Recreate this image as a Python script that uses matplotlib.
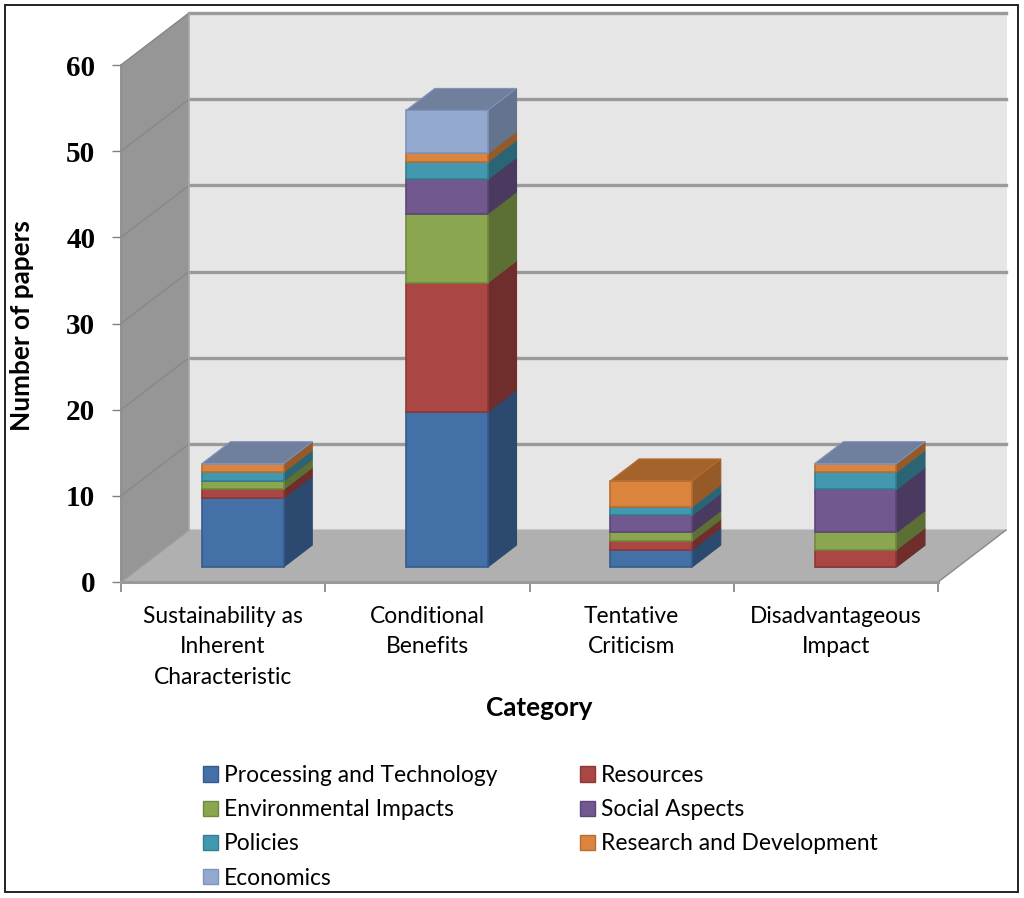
import numpy as np
import matplotlib
matplotlib.use("Agg")
import matplotlib.pyplot as plt
from matplotlib.patches import Polygon, Rectangle, Patch

categories = ["Sustainability as\nInherent\nCharacteristic", "Conditional\nBenefits",
              "Tentative\nCriticism", "Disadvantageous\nImpact"]
series_names = ["Processing and Technology", "Resources", "Environmental Impacts",
                "Social Aspects", "Policies", "Research and Development", "Economics"]
processing = [8, 18, 2, 0]
resources = [1, 15, 1, 2]
environmental = [1, 8, 1, 2]
social = [0, 4, 2, 5]
policies = [1, 2, 1, 2]
research = [1, 1, 3, 1]
# nan = no economics segment, so the top face takes the orange of the one below
economics = [0, 5, np.nan, 0]
yticks = [0, 10, 20, 30, 40, 50, 60]

front_cols = ["#4470a8", "#aa4643", "#8aa64f", "#71588f", "#4198af", "#db843d", "#93a9cf"]
side_cols = ["#2c4a70", "#6f2e2c", "#5c6f35", "#4a3a5f", "#2b6575", "#965a28", "#65748e"]
top_cols = ["#2c4a70", "#6f2e2c", "#5c6f35", "#4a3a5f", "#2b6575", "#a5632c", "#6f7f9c"]
edge_cols = ["#355b8c", "#8c3836", "#71893f", "#5c4776", "#337e93", "#b86d30", "#7d94bb"]

W, H = 1024, 898
plt.rcParams["font.family"] = ["Lato", "DejaVu Sans"]
fig = plt.figure(figsize=(W / 100, H / 100), dpi=100)
ax = fig.add_axes([121 / W, 1 - 582 / H, 817 / W, 517 / H])
ax.set_xlim(-0.5, 3.5)
ax.set_ylim(0, 60)
ax.patch.set_visible(False)

# 3d look: how far the back wall sits from the front plane, in data units
dx = 68 / 204.25
dy = 6.03
bar_half = 0.2
depth_front = 0.29
depth_back = 0.71


def face(pts, fc, ec=None, lw=0.8, z=1):
    ax.add_patch(Polygon(pts, closed=True, facecolor=fc, edgecolor=ec if ec else fc,
                         linewidth=lw, zorder=z, clip_on=False))


x0, x1 = -0.5, 3.5
face([(x0, 0), (x0 + dx, dy), (x0 + dx, 60 + dy), (x0, 60)], "#969696", z=1)
face([(x0 + dx, dy), (x1 + dx, dy), (x1 + dx, 60 + dy), (x0 + dx, 60 + dy)], "#e6e6e6", z=1)
face([(x0, 0), (x1, 0), (x1 + dx, dy), (x0 + dx, dy)], "#b0b0b0", z=2)

for t in yticks[1:]:
    ax.plot([x0 + dx, x1 + dx], [t + dy, t + dy], color="#9a9a9a", lw=2.4, zorder=2, clip_on=False)
    ax.plot([x0, x0 + dx], [t, t + dy], color="#868686", lw=0.9, zorder=2, clip_on=False)
ax.plot([x0 + dx, x0 + dx], [dy, 60 + dy], color="#a8a8a8", lw=1.2, zorder=2, clip_on=False)
ax.plot([x0, x0 + dx], [0, dy], color="#9a9a9a", lw=1, zorder=3, clip_on=False)
ax.plot([x1, x1 + dx], [0, dy], color="#8c8c8c", lw=1, zorder=3, clip_on=False)

data = np.array([processing, resources, environmental, social, policies, research, economics], dtype=float)

for i in range(len(categories)):
    left = i - bar_half + depth_front * dx
    right = i + bar_half + depth_front * dx
    off_x = (depth_back - depth_front) * dx
    base = depth_front * dy
    off_y = (depth_back - depth_front) * dy
    bottom = base
    last = 0
    for s in range(len(series_names)):
        v = data[s, i]
        if np.isnan(v):
            continue
        top = bottom + v
        face([(right, bottom), (right + off_x, bottom + off_y), (right + off_x, top + off_y), (right, top)],
             side_cols[s], z=4)
        ax.bar(left, v, width=right - left, bottom=bottom, align="edge", color=front_cols[s],
               edgecolor=edge_cols[s], linewidth=1.2, zorder=5, clip_on=False)
        bottom = top
        last = s
    face([(left, bottom), (right, bottom), (right + off_x, bottom + off_y), (left + off_x, bottom + off_y)],
         top_cols[last], ec=edge_cols[last], z=6)

for sp in ["top", "right"]:
    ax.spines[sp].set_visible(False)
ax.spines["left"].set_color("#8c8c8c")
ax.spines["left"].set_linewidth(1.2)
ax.spines["bottom"].set_color("#9a9a9a")
ax.spines["bottom"].set_linewidth(2.2)
ax.spines["bottom"].set_zorder(3)

ax.set_yticks(yticks)
ax.set_yticklabels([str(t) for t in yticks], family=["Liberation Serif"], fontweight="bold", fontsize=21)
ax.tick_params(axis="y", length=6.5, width=1, color="#808080", pad=12)
ax.set_xticks(np.arange(-0.5, 4, 1))
ax.set_xticklabels([])
ax.tick_params(axis="x", which="major", length=7.5, width=1.2, color="#808080")
ax.set_xticks(np.arange(len(categories)), labels=categories, minor=True)
ax.tick_params(axis="x", which="minor", length=0, pad=17, labelsize=16.4)
for lab in ax.get_xticklabels(minor=True):
    lab.set_linespacing(1.58)

fig.text(22 / W, 1 - 326 / H, "Number of papers", rotation=90, ha="center", va="center",
         fontsize=18.8, fontweight="bold")
fig.text(539 / W, 1 - 708 / H, "Category", ha="center", va="center", fontsize=18.8, fontweight="bold")

# legend fills by column, so hand it the left column first
legend_order = [0, 2, 4, 6, 1, 3, 5]
handles = [Patch(facecolor=front_cols[s], edgecolor=edge_cols[s], label=series_names[s])
           for s in legend_order]
fig.legend(handles=handles, ncol=2, frameon=False, loc="upper left",
           bbox_to_anchor=(203 / W, 1 - 765 / H), fontsize=16.4, handlelength=0.65, handleheight=0.65,
           handletextpad=0.27, labelspacing=0.58, columnspacing=3.64, borderaxespad=0, borderpad=0)

fig.add_artist(Rectangle((5 / W, 1 - 892 / H), 1013 / W, 887 / H, transform=fig.transFigure,
                         fill=False, edgecolor="#222222", linewidth=1.4))

plt.savefig("out.png", dpi=100)
